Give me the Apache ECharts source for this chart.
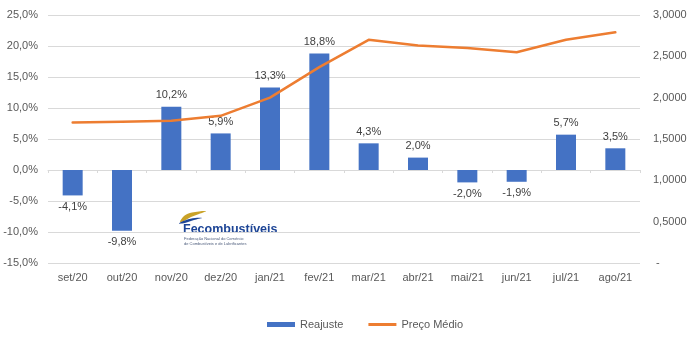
<!DOCTYPE html>
<html>
<head>
<meta charset="utf-8">
<script src="https://cdn.jsdelivr.net/npm/echarts@6/dist/echarts.min.js"></script>
<style>
  html, body { margin: 0; padding: 0; background: #ffffff; }
  #chart { width: 691px; height: 337px; }
</style>
</head>
<body>
<div id="chart"></div>
<script>
// Monthly fuel price adjustment (%) and average price (R$)
const months = ['set/20', 'out/20', 'nov/20', 'dez/20', 'jan/21', 'fev/21', 'mar/21', 'abr/21', 'mai/21', 'jun/21', 'jul/21', 'ago/21'];
const reajuste = [-4.1, -9.8, 10.2, 5.9, 13.3, 18.8, 4.3, 2.0, -2.0, -1.9, 5.7, 3.5];
const precoMedio = [1.70, 1.71, 1.72, 1.78, 2.00, 2.37, 2.70, 2.63, 2.60, 2.55, 2.70, 2.79];

const FONT = '"Liberation Sans", Arial, sans-serif';
const pct = v => v.toFixed(1).replace('.', ',') + '%';

const chart = echarts.init(document.getElementById('chart'), null, { renderer: 'canvas' });

chart.setOption({
  animation: false,
  backgroundColor: '#ffffff',
  textStyle: { fontFamily: FONT },
  grid: { left: 48, right: 51, top: 15, bottom: 74 },
  legend: {
    left: 262,
    top: 314,
    itemWidth: 28,
    itemHeight: 5,
    itemGap: 25,
    textStyle: { color: '#595959', fontSize: 11, fontFamily: FONT },
    data: [
      { name: 'Reajuste', icon: 'rect' },
      // thin stroke centred inside the 5px icon box
      { name: 'Preço Médio', icon: 'path://M0,0 L0,0 M0,1 L28,1 L28,4 L0,4 Z M28,5 L28,5' }
    ]
  },
  xAxis: [
    {
      type: 'category',
      data: months,
      position: 'bottom',
      axisLine: { show: false, onZero: false },
      axisTick: { show: false },
      axisLabel: { color: '#595959', fontSize: 11, margin: 9, fontFamily: FONT }
    },
    {
      // zero line with tick marks between months
      type: 'category',
      data: months,
      position: 'top',
      axisLine: { show: true, onZero: true, onZeroAxisIndex: 0, lineStyle: { color: '#d9d9d9', width: 1 } },
      axisTick: { show: true, inside: true, length: 3, lineStyle: { color: '#d9d9d9' } },
      axisLabel: { show: false }
    }
  ],
  yAxis: [
    {
      type: 'value',
      min: -15,
      max: 25,
      interval: 5,
      axisLine: { show: false },
      axisTick: { show: false },
      splitLine: { lineStyle: { color: '#d9d9d9', width: 1 } },
      axisLabel: { color: '#595959', fontSize: 11, margin: 10, fontFamily: FONT, formatter: v => pct(v) }
    },
    {
      type: 'value',
      min: 0,
      max: 3,
      interval: 0.5,
      axisLine: { show: false },
      axisTick: { show: false },
      splitLine: { show: false },
      axisLabel: {
        color: '#595959', fontSize: 11, margin: 13, fontFamily: FONT,
        formatter: v => v === 0 ? ' -' : v.toFixed(4).replace('.', ',')
      }
    }
  ],
  series: [
    {
      name: 'Reajuste',
      type: 'bar',
      xAxisIndex: 0,
      yAxisIndex: 0,
      barWidth: 20,
      itemStyle: { color: '#4472c4' },
      data: reajuste.map(v => ({
        value: v,
        label: { position: v < 0 ? 'bottom' : 'top' }
      })),
      label: {
        show: true,
        distance: 6,
        color: '#404040',
        fontSize: 11,
        fontFamily: FONT,
        formatter: p => pct(p.value)
      },
      z: 2
    },
    {
      name: 'Preço Médio',
      type: 'line',
      xAxisIndex: 0,
      yAxisIndex: 1,
      symbol: 'none',
      smooth: false,
      lineStyle: { color: '#ed7d31', width: 2.5, cap: 'round', join: 'round' },
      itemStyle: { color: '#ed7d31' },
      data: precoMedio,
      z: 3
    }
  ],
  graphic: [
    {
      type: 'group',
      x: 168,
      y: 200,
      z: 10,
      children: [
        { type: 'rect', shape: { x: 0, y: 0, width: 118, height: 52 }, style: { fill: '#ffffff' } },
        // gold feather
        {
          type: 'polygon',
          shape: { points: [[12, 22], [16, 16], [24, 12.5], [38, 11], [31, 14], [23, 17], [16, 21]], smooth: 0.35 },
          style: { fill: '#c9a227' }
        },
        // blue swoosh
        {
          type: 'polygon',
          shape: { points: [[11, 23.5], [18, 20], [27, 18], [34, 18], [26, 20], [17, 23]], smooth: 0.35 },
          style: { fill: '#1d4596' }
        },
        {
          type: 'text',
          x: 15, y: 23,
          style: { text: 'Fecombustíveis', fill: '#1d4596', font: 'bold 12.5px "Liberation Sans", Arial, sans-serif' }
        },
        {
          type: 'text',
          x: 16, y: 37,
          style: { text: 'Federação Nacional do Comércio', fill: '#4a5a7a', font: '4px "Liberation Sans", Arial, sans-serif' }
        },
        {
          type: 'text',
          x: 16, y: 42,
          style: { text: 'de Combustíveis e de Lubrificantes', fill: '#4a5a7a', font: '4px "Liberation Sans", Arial, sans-serif' }
        }
      ]
    }
  ]
});
</script>
</body>
</html>
